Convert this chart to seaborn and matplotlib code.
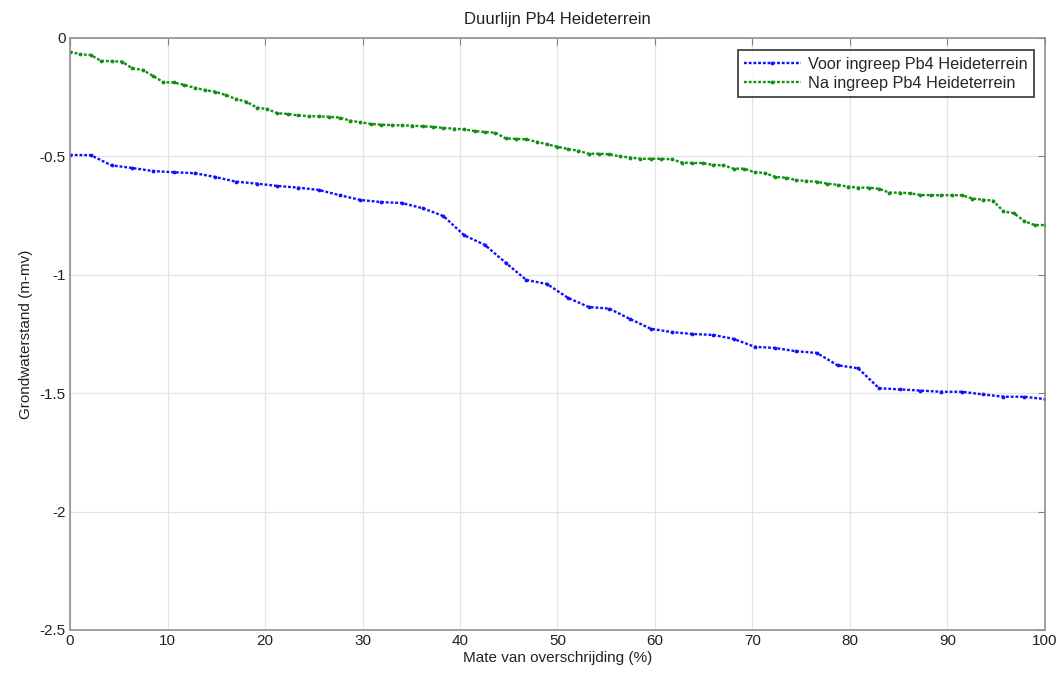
import numpy as np
import pandas as pd
import matplotlib
matplotlib.use("Agg")
import matplotlib.pyplot as plt
import seaborn as sns

# Duurlijn values (m-mv)
voor = [-0.494, -0.495, -0.538, -0.549, -0.562, -0.567, -0.571, -0.587, -0.607, -0.615,
        -0.625, -0.632, -0.642, -0.664, -0.684, -0.693, -0.697, -0.719, -0.752, -0.833,
        -0.874, -0.949, -1.022, -1.039, -1.097, -1.136, -1.143, -1.187, -1.228,
        -1.242, -1.250, -1.254, -1.271, -1.304, -1.309, -1.323, -1.330, -1.382, -1.395,
        -1.479, -1.484, -1.489, -1.494, -1.494, -1.505, -1.515, -1.515, -1.525]

na = [-0.058, -0.069, -0.072, -0.097, -0.098, -0.100, -0.128, -0.135, -0.160, -0.187,
      -0.188, -0.198, -0.210, -0.220, -0.227, -0.241, -0.258, -0.269, -0.294, -0.300,
      -0.318, -0.321, -0.327, -0.330, -0.331, -0.333, -0.336, -0.349, -0.356, -0.363,
      -0.366, -0.368, -0.369, -0.370, -0.373, -0.375, -0.380, -0.383, -0.386,
      -0.393, -0.397, -0.400, -0.424, -0.426, -0.428, -0.439, -0.449, -0.459, -0.469,
      -0.476, -0.489, -0.489, -0.491, -0.500, -0.505, -0.510, -0.510, -0.510, -0.512,
      -0.526, -0.528, -0.528, -0.536, -0.538, -0.552, -0.552, -0.567, -0.570, -0.587,
      -0.590, -0.600, -0.604, -0.607, -0.615, -0.620, -0.628, -0.632, -0.632,
      -0.637, -0.653, -0.653, -0.656, -0.663, -0.664, -0.664, -0.664, -0.664, -0.678,
      -0.683, -0.687, -0.732, -0.740, -0.773, -0.790, -0.790]

# overschrijdingspercentage, evenly spread over 0-100
x_voor = np.linspace(0, 100, len(voor))
x_na = np.linspace(0, 100, len(na))

label_voor = "Voor ingreep Pb4 Heideterrein"
label_na = "Na ingreep Pb4 Heideterrein"

df = pd.concat([
    pd.DataFrame({"pct": x_voor, "gws": voor, "reeks": label_voor}),
    pd.DataFrame({"pct": x_na, "gws": na, "reeks": label_na}),
])

sns.set_style("white")
plt.rcParams["font.family"] = ["Liberation Sans", "DejaVu Sans"]

fig = plt.figure(figsize=(10.63, 6.78), dpi=100)
ax = fig.add_axes([0.0659, 0.0708, 0.9171, 0.8732])

sns.lineplot(data=df, x="pct", y="gws", hue="reeks",
             palette={label_voor: "#1010ff", label_na: "#109010"},
             estimator=None, sort=False, ax=ax,
             linestyle=(0, (1.2, 0.8)), marker=".", markersize=5.5, linewidth=1.7,
             markeredgewidth=0)

ax.set_xlim(0, 100)
ax.set_ylim(-2.5, 0)
ax.set_xticks(np.arange(0, 101, 10))
ax.set_yticks([0, -0.5, -1, -1.5, -2, -2.5])
ax.set_yticklabels(["0", "-0.5", "-1", "-1.5", "-2", "-2.5"])
ax.grid(True, color="#e4e4e4", linewidth=0.9)
ax.tick_params(direction="in", top=True, right=True, length=5,
               color="#808080", labelsize=11, labelcolor="#222222", pad=3)
for s in ax.spines.values():
    s.set_color("#909090")
    s.set_linewidth(1.2)

ax.set_title("Duurlijn Pb4 Heideterrein", fontsize=12, color="#222222", pad=10)
ax.set_xlabel("Mate van overschrijding (%)", fontsize=11, color="#222222", labelpad=2)
ax.set_ylabel("Grondwaterstand (m-mv)", fontsize=11, color="#222222", labelpad=5)

leg = ax.legend(loc="upper right", bbox_to_anchor=(0.9925, 0.985), frameon=True,
                fancybox=False, edgecolor="black", fontsize=11.7,
                handlelength=3.5, handletextpad=0.45, borderpad=0.4,
                labelspacing=0.25, borderaxespad=0.2)
leg.get_frame().set_linewidth(1.2)

fig.savefig("out.png", dpi=100)
